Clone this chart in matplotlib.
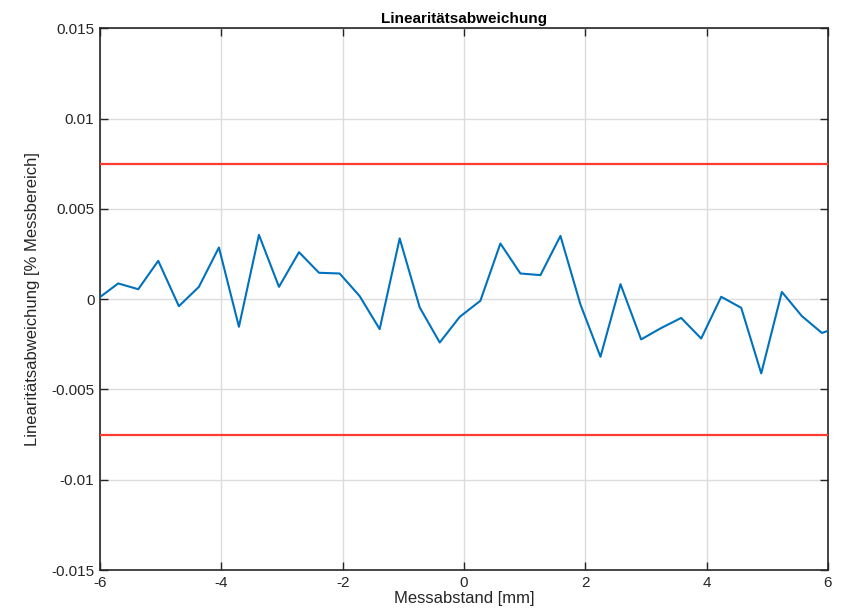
import numpy as np
import matplotlib
matplotlib.use("Agg")
import matplotlib.pyplot as plt

plt.rcParams['font.family'] = ['Liberation Sans', 'DejaVu Sans']
plt.rcParams['axes.unicode_minus'] = False

# messabstand in mm (letzter punkt liegt ausserhalb der achse)
abstand = [-6.03, -5.70, -5.37, -5.04, -4.70, -4.37, -4.04, -3.71, -3.38, -3.05,
           -2.72, -2.39, -2.05, -1.72, -1.39, -1.06, -0.73, -0.40, -0.07, 0.27,
           0.60, 0.93, 1.26, 1.59, 1.92, 2.25, 2.58, 2.92, 3.25, 3.58,
           3.91, 4.24, 4.57, 4.90, 5.24, 5.57, 5.90, 6.23]
abweichung = [0.00004, 0.00087, 0.00055, 0.00212, -0.00039, 0.00068, 0.00286, -0.00153,
              0.00356, 0.00068, 0.0026, 0.00146, 0.00142, 0.00017, -0.00166, 0.00336,
              -0.00046, -0.0024, -0.00098, -0.00009, 0.00308, 0.00142, 0.00133, 0.0035,
              -0.0003, -0.00319, 0.00083, -0.00223, -0.0016, -0.00104, -0.00218, 0.00013,
              -0.00048, -0.00411, 0.0004, -0.00094, -0.00187, -0.0015]
grenze = 0.0075

fig = plt.figure(figsize=(8.44, 6.13), dpi=100)
ax = fig.add_axes([0.1185, 0.070, 0.8625, 0.884])

ax.plot([-6, 6], [grenze, grenze], color='#ff3b30', lw=1.6, zorder=3)
ax.plot([-6, 6], [-grenze, -grenze], color='#ff3b30', lw=1.6, zorder=3)
ax.plot(abstand, abweichung, color='#0072BD', lw=1.5, zorder=4)

ax.set_xlim(-6, 6)
ax.set_ylim(-0.015, 0.015)
ax.set_xticks([-6, -4, -2, 0, 2, 4, 6])
ax.set_yticks([-0.015, -0.01, -0.005, 0, 0.005, 0.01, 0.015])
ax.set_yticklabels(['-0.015', '-0.01', '-0.005', '0', '0.005', '0.01', '0.015'])
ax.grid(True, color='#dcdcdc', lw=1)
ax.set_axisbelow(True)
ax.tick_params(direction='in', top=True, right=True, length=6, width=1,
               labelsize=11, colors='#262626', pad=4)
for s in ax.spines.values():
    s.set_linewidth(1.2)
    s.set_color('#262626')

ax.set_title('Linearitätsabweichung', fontsize=11, fontweight='bold', pad=4)
ax.set_xlabel('Messabstand [mm]', fontsize=12, labelpad=1, color='#262626')
ax.set_ylabel('Linearitätsabweichung [% Messbereich]', fontsize=12, labelpad=8, color='#262626')

fig.savefig('out.png', dpi=100)
